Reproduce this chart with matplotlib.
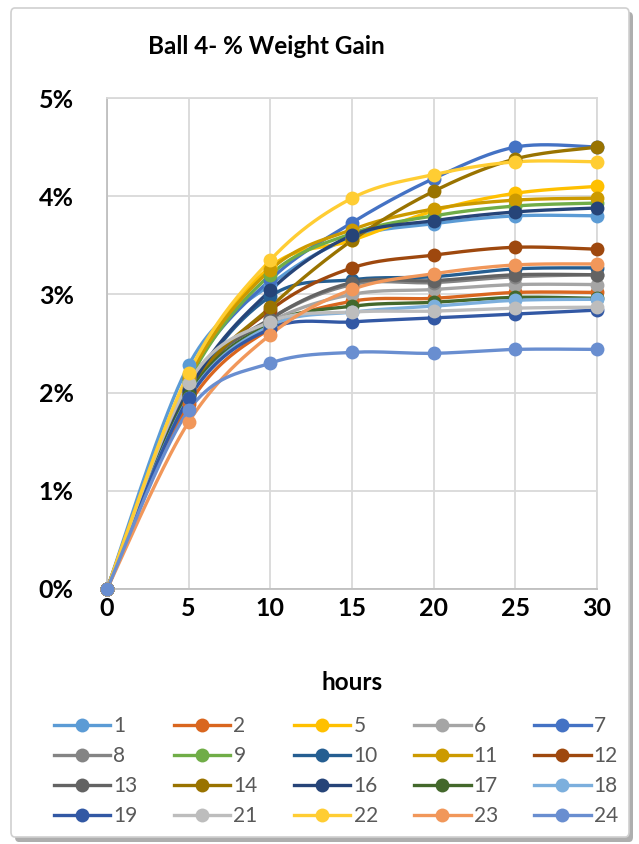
import numpy as np
import matplotlib
matplotlib.use("Agg")
import matplotlib.pyplot as plt
from matplotlib.lines import Line2D
from matplotlib.patches import FancyBboxPatch
from matplotlib.ticker import FuncFormatter, MultipleLocator

# ---- data: percent weight gain per ball sample over time ----
hours = [0, 5, 10, 15, 20, 25, 30]

labels = ["1", "2", "5", "6", "7", "8", "9", "10", "11", "12",
          "13", "14", "16", "17", "18", "19", "21", "22", "23", "24"]

gain_1 = [0, 2.28, 3.10, 3.58, 3.72, 3.80, 3.80]
gain_2 = [0, 1.88, 2.65, 2.93, 2.96, 3.02, 3.02]
gain_5 = [0, 2.18, 3.28, 3.55, 3.85, 4.03, 4.10]
gain_6 = [0, 2.10, 2.72, 3.00, 3.05, 3.10, 3.10]
gain_7 = [0, 2.15, 3.15, 3.73, 4.18, 4.50, 4.50]
gain_8 = [0, 2.05, 2.75, 3.10, 3.12, 3.18, 3.20]
gain_9 = [0, 2.12, 3.20, 3.62, 3.80, 3.90, 3.93]
gain_10 = [0, 2.00, 2.98, 3.15, 3.18, 3.26, 3.27]
gain_11 = [0, 2.15, 3.25, 3.66, 3.87, 3.96, 3.98]
gain_12 = [0, 1.98, 2.84, 3.27, 3.40, 3.48, 3.46]
gain_13 = [0, 2.03, 2.75, 3.12, 3.14, 3.20, 3.20]
gain_14 = [0, 2.00, 2.87, 3.55, 4.05, 4.38, 4.50]
gain_16 = [0, 2.02, 3.04, 3.60, 3.75, 3.84, 3.88]
gain_17 = [0, 1.98, 2.70, 2.88, 2.92, 2.97, 2.96]
gain_18 = [0, 1.95, 2.68, 2.82, 2.88, 2.94, 2.95]
gain_19 = [0, 1.94, 2.65, 2.72, 2.76, 2.80, 2.84]
gain_21 = [0, 2.10, 2.72, 2.82, 2.83, 2.86, 2.87]
gain_22 = [0, 2.20, 3.35, 3.98, 4.22, 4.35, 4.35]
gain_23 = [0, 1.70, 2.59, 3.05, 3.21, 3.30, 3.31]
gain_24 = [0, 1.82, 2.30, 2.41, 2.40, 2.44, 2.44]

series = [gain_1, gain_2, gain_5, gain_6, gain_7, gain_8, gain_9, gain_10,
          gain_11, gain_12, gain_13, gain_14, gain_16, gain_17, gain_18,
          gain_19, gain_21, gain_22, gain_23, gain_24]

colors = ["#5B9BD5", "#D9661F", "#FFC000", "#A5A5A5", "#4472C4",
          "#848484", "#70AD47", "#255E91", "#CC9A00", "#9E480E",
          "#636363", "#997300", "#264478", "#43682B", "#7CAFDD",
          "#3258A4", "#BDBDBD", "#FFCD33", "#F1975A", "#698ED0"]


def smooth_curve(x, y, steps=40):
    """Catmull-Rom style Bezier smoothing through every point."""
    p = np.column_stack([np.asarray(x, float), np.asarray(y, float)])
    n = len(p)
    t = np.linspace(0, 1, steps)[:, None]
    out = []
    for i in range(n - 1):
        p0, p3 = p[i], p[i + 1]
        prev = p[i - 1] if i > 0 else p[i]
        nxt = p[i + 2] if i + 2 < n else p[i + 1]
        c1 = p0 + (p3 - prev) / 6.0
        c2 = p3 - (nxt - p0) / 6.0
        seg = ((1 - t) ** 3) * p0 + 3 * ((1 - t) ** 2) * t * c1 \
            + 3 * (1 - t) * t ** 2 * c2 + t ** 3 * p3
        out.append(seg if i == 0 else seg[1:])
    out = np.vstack(out)
    return out[:, 0], out[:, 1]


W, H = 639, 844
fig = plt.figure(figsize=(W / 100, H / 100), dpi=100)
fig.patch.set_facecolor("white")

# chart frame with a soft shadow
shadow = FancyBboxPatch((15 / W, 2 / H), 618 / W, 830 / H,
                        boxstyle="round,pad=0,rounding_size=0.006",
                        transform=fig.transFigure, facecolor="#9A9A9A",
                        edgecolor="none", alpha=0.8, zorder=-3)
frame = FancyBboxPatch((11 / W, 7 / H), 618 / W, 829 / H,
                       boxstyle="round,pad=0,rounding_size=0.006",
                       transform=fig.transFigure, facecolor="white",
                       edgecolor="#D0D0D0", linewidth=1.2, zorder=-2)
fig.patches.extend([shadow, frame])

ax = fig.add_axes([107 / W, 1 - 589 / H, 490 / W, 491 / H])
ax.set_facecolor("none")
ax.set_zorder(1)

for vals, col in zip(series, colors):
    xs, ys = smooth_curve(hours, vals)
    ax.plot(xs, ys, color=col, lw=2.4, solid_capstyle="round", zorder=3)
    ax.plot(hours, vals, "o", color=col, ms=10, mew=0, clip_on=False, zorder=4)

ax.set_xlim(0, 30)
ax.set_ylim(0, 5)
ax.xaxis.set_major_locator(MultipleLocator(5))
ax.yaxis.set_major_locator(MultipleLocator(1))
ax.yaxis.set_major_formatter(FuncFormatter(lambda v, _: f"{v:.0f}%"))
ax.grid(True, color="#D9D9D9", lw=1.3, zorder=0)
ax.set_axisbelow(True)
for side in ["top", "right"]:
    ax.spines[side].set_color("#D9D9D9")
    ax.spines[side].set_linewidth(1.3)
for side in ["left", "bottom"]:
    ax.spines[side].set_color("#BFBFBF")
    ax.spines[side].set_linewidth(1.3)
ax.tick_params(length=0, labelsize=18)
ax.tick_params(axis="x", pad=6)
ax.tick_params(axis="y", pad=24)
for lab in ax.get_xticklabels() + ax.get_yticklabels():
    lab.set_fontweight("bold")
    lab.set_family("Lato")

fig.text(352 / W, 1 - 683 / H, "hours", ha="center", va="center",
         fontsize=17.5, fontweight="bold", family="Lato")
fig.text(266 / W, 1 - 47 / H, "Ball 4- % Weight Gain", ha="center",
         va="center", fontsize=17.5, fontweight="bold", family="Lato")

# legend entries laid out row by row (5 per row)
handles = [Line2D([], [], color=c, lw=2.4, marker="o", ms=10, mew=0)
           for c in colors]
ncol = 5
order = [r * ncol + c for c in range(ncol) for r in range(len(labels) // ncol)]
leg = fig.legend([handles[i] for i in order], [labels[i] for i in order],
                 ncol=ncol, loc="center",
                 bbox_to_anchor=(336 / W, 1 - 771 / H), frameon=False,
                 prop={"family": "Lato", "size": 15},
                 handlelength=2.7, handletextpad=0.15,
                 columnspacing=1.75, labelspacing=0.48)
for t in leg.get_texts():
    t.set_color("#595959")

fig.savefig("out.png", dpi=100, facecolor="white")
